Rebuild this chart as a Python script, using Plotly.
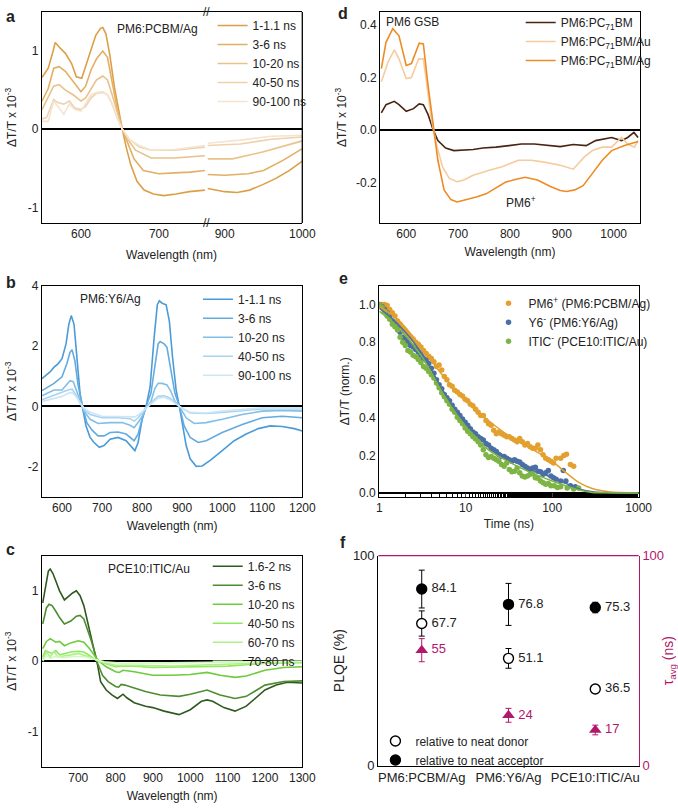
import plotly.graph_objects as go

W, H = 678, 811
def px(x): return x / W
def py(y): return 1 - y / H

FONT = "Arial, Liberation Sans, sans-serif"
TXT = "#222222"

# ---------------- Panel a : PM6:PCBM/Ag ----------------
a_labels = ["1-1.1 ns", "3-6 ns", "10-20 ns", "40-50 ns", "90-100 ns"]
a_colors = ["#DC9F46", "#E3AF63", "#E9C189", "#EED2AC", "#F4E4D0"]
a_x1 = [550, 558, 564, 567, 572, 580, 588, 594, 601, 606, 613, 619, 625, 628, 632, 637, 643, 650, 653, 658, 664, 672, 681, 693, 706, 722, 739, 759,
        878, 900, 916, 932, 949, 966, 983, 1000]
a_y1 = [0.66, 0.78, 0.99, 1.11, 1.05, 0.97, 0.84, 0.67, 0.65, 0.80, 1.03, 1.20, 1.29, 1.30, 1.22, 0.95, 0.53, 0.15, 0.0, -0.23, -0.46, -0.67, -0.78, -0.83, -0.85, -0.83, -0.80, -0.78,
        -0.76, -0.80, -0.81, -0.78, -0.71, -0.63, -0.53, -0.41]
a_x2 = [550, 558, 565, 572, 580, 590, 600, 606, 613, 620, 628, 634, 640, 647, 653, 660, 668, 680, 700, 720, 740, 759,
        878, 900, 930, 950, 975, 1000]
a_y2 = [0.36, 0.52, 0.78, 0.80, 0.74, 0.61, 0.48, 0.55, 0.76, 0.90, 1.00, 0.92, 0.61, 0.23, 0.0, -0.19, -0.38, -0.53, -0.57, -0.56, -0.55, -0.53,
        -0.58, -0.59, -0.57, -0.53, -0.40, -0.25]
a_x3 = [550, 558, 565, 572, 580, 590, 600, 606, 613, 620, 628, 634, 640, 647, 653, 660, 670, 690, 720, 759,
        878, 910, 950, 980, 1000]
a_y3 = [0.25, 0.40, 0.55, 0.57, 0.50, 0.44, 0.36, 0.40, 0.52, 0.63, 0.68, 0.63, 0.44, 0.19, 0.0, -0.13, -0.27, -0.37, -0.37, -0.34,
        -0.38, -0.38, -0.29, -0.21, -0.15]
a_x4 = [550, 556, 565, 570, 578, 585, 592, 600, 606, 613, 620, 628, 634, 640, 647, 653, 662, 675, 690, 720, 759,
        878, 920, 960, 1000]
a_y4 = [0.13, 0.15, 0.38, 0.34, 0.32, 0.36, 0.27, 0.25, 0.29, 0.40, 0.46, 0.47, 0.44, 0.32, 0.13, 0.0, -0.13, -0.23, -0.27, -0.27, -0.23,
        -0.21, -0.19, -0.13, -0.10]
a_x5 = [550, 558, 565, 572, 578, 585, 592, 600, 606, 613, 620, 628, 634, 640, 647, 653, 662, 675, 690, 720, 759,
        878, 920, 960, 1000]
a_y5 = [0.10, 0.10, 0.36, 0.27, 0.19, 0.32, 0.25, 0.23, 0.32, 0.44, 0.47, 0.48, 0.44, 0.32, 0.13, 0.0, -0.13, -0.21, -0.27, -0.26, -0.21,
        -0.18, -0.14, -0.09, -0.08]
a_xs = [a_x1, a_x2, a_x3, a_x4, a_x5]
a_ys = [a_y1, a_y2, a_y3, a_y4, a_y5]
A_BREAK_LO, A_BREAK_HI = 760, 870

# ---------------- Panel d : PC71BM ----------------
d_labels = ["PM6:PC<sub>71</sub>BM", "PM6:PC<sub>71</sub>BM/Au", "PM6:PC<sub>71</sub>BM/Ag"]
d_colors = ["#4A2412", "#F6CB9E", "#EE8B22"]
d_x1 = [552, 561, 577, 586, 600, 614, 625, 633, 642, 652, 661, 676, 692, 711, 729, 748, 773, 798, 822, 847, 872, 897, 922, 947, 965, 996, 1015, 1027, 1039, 1047]
d_y1 = [0.065, 0.096, 0.109, 0.096, 0.071, 0.081, 0.099, 0.096, 0.059, 0.0, -0.041, -0.069, -0.079, -0.076, -0.075, -0.069, -0.066, -0.060, -0.054, -0.054, -0.060, -0.064, -0.056, -0.060, -0.041, -0.029, -0.041, -0.029, -0.010, -0.029]
d_x2 = [552, 565, 577, 586, 600, 610, 624, 633, 639, 648, 658, 670, 683, 698, 711, 729, 760, 785, 816, 841, 866, 897, 922, 943, 959, 978, 996, 1015, 1027, 1040, 1047]
d_y2 = [0.184, 0.259, 0.305, 0.271, 0.196, 0.200, 0.271, 0.271, 0.184, 0.046, -0.054, -0.141, -0.185, -0.198, -0.191, -0.173, -0.154, -0.141, -0.116, -0.116, -0.123, -0.135, -0.150, -0.104, -0.079, -0.066, -0.066, -0.029, -0.054, -0.066, -0.041]
d_x3 = [552, 561, 574, 586, 600, 610, 625, 633, 642, 652, 661, 673, 686, 698, 717, 735, 754, 773, 791, 810, 829, 853, 878, 897, 909, 925, 941, 959, 978, 996, 1021, 1047]
d_y3 = [0.234, 0.334, 0.386, 0.359, 0.246, 0.253, 0.331, 0.328, 0.171, 0.009, -0.116, -0.229, -0.266, -0.275, -0.266, -0.256, -0.244, -0.223, -0.200, -0.189, -0.181, -0.191, -0.216, -0.231, -0.235, -0.229, -0.213, -0.166, -0.116, -0.079, -0.060, -0.044]
d_xs = [d_x1, d_x2, d_x3]
d_ys = [d_y1, d_y2, d_y3]

# ---------------- Panel b : PM6:Y6/Ag ----------------
b_labels = ["1-1.1 ns", "3-6 ns", "10-20 ns", "40-50 ns", "90-100 ns"]
b_colors = ["#4B9BD8", "#63ABE0", "#82BFE8", "#A7D3F0", "#CCE6F6"]
b_x1 = [550, 570, 580, 590, 600, 610, 617, 623, 630, 637, 645, 652, 660, 670, 680, 693, 705, 720, 740, 760, 775, 782, 790, 800, 810, 820, 830, 838, 843, 850, 860, 868, 876, 885, 893, 900, 910, 920, 935, 950, 970, 1000, 1030, 1060, 1090, 1120, 1150, 1180, 1200]
b_y1 = [0.92, 1.14, 1.30, 1.41, 1.58, 2.07, 2.72, 3.01, 2.72, 1.63, 0.43, -0.11, -0.65, -1.03, -1.20, -1.36, -1.30, -1.09, -1.03, -1.14, -1.36, -1.47, -1.20, -0.43, 0.0, 0.65, 2.28, 3.37, 3.50, 3.42, 3.37, 2.83, 1.63, 0.54, 0.0, -0.54, -1.30, -1.74, -1.99, -1.98, -1.79, -1.47, -1.14, -0.92, -0.74, -0.65, -0.67, -0.74, -0.82]
b_x2 = [550, 580, 600, 612, 620, 625, 632, 640, 652, 662, 675, 690, 705, 720, 740, 760, 780, 790, 800, 810, 822, 832, 840, 845, 855, 862, 872, 882, 893, 905, 920, 940, 960, 1000, 1050, 1100, 1150, 1200]
b_y2 = [0.52, 0.76, 0.98, 1.41, 1.79, 1.88, 1.52, 0.71, -0.05, -0.54, -0.79, -0.98, -0.98, -0.87, -0.85, -0.92, -1.14, -0.92, -0.43, 0.0, 0.43, 1.41, 2.07, 2.15, 2.07, 1.96, 1.20, 0.43, 0.0, -0.65, -1.03, -1.20, -1.14, -0.87, -0.60, -0.38, -0.33, -0.38]
b_x3 = [550, 580, 600, 612, 620, 628, 636, 645, 655, 670, 690, 720, 750, 770, 780, 790, 800, 810, 822, 832, 840, 850, 862, 872, 882, 893, 910, 930, 960, 1000, 1050, 1100, 1150, 1200]
b_y3 = [0.35, 0.54, 0.54, 0.71, 0.85, 0.82, 0.54, 0.16, -0.16, -0.43, -0.57, -0.54, -0.54, -0.63, -0.71, -0.54, -0.33, -0.05, 0.16, 0.60, 0.76, 0.76, 0.71, 0.49, 0.16, 0.0, -0.38, -0.57, -0.54, -0.43, -0.27, -0.16, -0.14, -0.16]
b_x4 = [550, 580, 600, 615, 625, 635, 645, 655, 670, 700, 740, 770, 780, 790, 800, 810, 825, 840, 855, 870, 882, 893, 920, 960, 1000, 1100, 1200]
b_y4 = [0.22, 0.38, 0.46, 0.54, 0.57, 0.38, 0.11, -0.11, -0.27, -0.38, -0.38, -0.41, -0.49, -0.38, -0.22, -0.05, 0.16, 0.33, 0.35, 0.27, 0.11, 0.0, -0.22, -0.24, -0.20, -0.09, -0.09]
b_x5 = [550, 580, 600, 615, 625, 635, 645, 655, 670, 700, 740, 770, 782, 795, 810, 825, 840, 855, 870, 893, 920, 960, 1000, 1100, 1200]
b_y5 = [0.16, 0.27, 0.33, 0.43, 0.46, 0.33, 0.11, -0.05, -0.20, -0.33, -0.33, -0.33, -0.35, -0.24, -0.05, 0.11, 0.27, 0.30, 0.22, 0.0, -0.20, -0.22, -0.16, -0.05, -0.05]
b_xs = [b_x1, b_x2, b_x3, b_x4, b_x5]
b_ys = [b_y1, b_y2, b_y3, b_y4, b_y5]

# ---------------- Panel c : PCE10:ITIC/Au ----------------
c_labels = ["1.6-2 ns", "3-6 ns", "10-20 ns", "40-50 ns", "60-70 ns", "70-80 ns"]
c_colors = ["#2F5A1F", "#4D8C2F", "#6DCB3C", "#8FE85E", "#AEF08A", "#D4F8C0"]
c_x1 = [605, 612, 620, 625, 632, 640, 650, 663, 675, 685, 695, 705, 715, 725, 735, 745, 752, 760, 775, 790, 805, 815, 820, 830, 850, 880, 900, 930, 970, 1000, 1030, 1045, 1060, 1090, 1120, 1150, 1180, 1200, 1230, 1260, 1300]
c_y1 = [0.83, 1.07, 1.28, 1.31, 1.25, 1.14, 1.00, 0.87, 0.93, 0.97, 1.00, 0.93, 0.79, 0.57, 0.34, 0.13, -0.06, -0.29, -0.41, -0.48, -0.53, -0.49, -0.47, -0.52, -0.59, -0.64, -0.66, -0.71, -0.76, -0.69, -0.57, -0.55, -0.57, -0.66, -0.71, -0.64, -0.50, -0.41, -0.34, -0.30, -0.31]
c_x2 = [605, 615, 622, 630, 640, 650, 663, 680, 695, 705, 715, 725, 735, 745, 752, 765, 780, 800, 808, 815, 825, 850, 880, 920, 970, 1000, 1045, 1080, 1120, 1150, 1180, 1200, 1250, 1300]
c_y2 = [0.53, 0.76, 0.81, 0.79, 0.71, 0.62, 0.53, 0.57, 0.64, 0.65, 0.60, 0.46, 0.29, 0.11, -0.03, -0.20, -0.29, -0.36, -0.37, -0.33, -0.34, -0.38, -0.43, -0.48, -0.50, -0.47, -0.41, -0.48, -0.53, -0.50, -0.41, -0.34, -0.29, -0.28]
c_x3 = [605, 615, 625, 640, 650, 663, 680, 700, 715, 730, 745, 758, 775, 800, 810, 820, 850, 900, 950, 1000, 1045, 1080, 1120, 1150, 1200, 1250, 1300]
c_y3 = [0.18, 0.28, 0.32, 0.27, 0.28, 0.22, 0.26, 0.29, 0.27, 0.18, 0.07, -0.01, -0.08, -0.15, -0.16, -0.13, -0.15, -0.20, -0.20, -0.19, -0.16, -0.20, -0.23, -0.21, -0.13, -0.09, -0.08]
c_x4 = [605, 612, 620, 630, 640, 650, 665, 680, 700, 715, 730, 750, 770, 800, 820, 850, 900, 1000, 1100, 1200, 1300]
c_y4 = [0.06, 0.15, 0.13, 0.11, 0.15, 0.09, 0.11, 0.13, 0.14, 0.13, 0.08, 0.01, -0.03, -0.08, -0.07, -0.07, -0.09, -0.08, -0.07, -0.03, -0.02]
c_x5 = [605, 615, 625, 635, 645, 660, 680, 700, 720, 740, 760, 800, 850, 950, 1050, 1150, 1300]
c_y5 = [0.03, 0.13, 0.06, 0.14, 0.06, 0.07, 0.09, 0.11, 0.08, 0.04, -0.01, -0.06, -0.06, -0.07, -0.05, -0.03, -0.01]
c_x6 = [605, 615, 625, 640, 660, 690, 720, 745, 770, 820, 900, 1000, 1150, 1300]
c_y6 = [0.0, 0.08, 0.04, 0.07, 0.05, 0.07, 0.06, 0.03, -0.01, -0.03, -0.03, -0.02, -0.01, 0.0]
c_xs = [c_x1, c_x2, c_x3, c_x4, c_x5, c_x6]
c_ys = [c_y1, c_y2, c_y3, c_y4, c_y5, c_y6]

# ---------------- Panel e : kinetics ----------------
e_labels = ["PM6<sup>+</sup> (PM6:PCBM/Ag)", "Y6<sup>-</sup> (PM6:Y6/Ag)", "ITIC<sup>-</sup> (PCE10:ITIC/Au)"]
e_colors = ["#E3A02E", "#4A6FA6", "#7DB443"]
e_t = [1.0, 1.072, 1.149, 1.231, 1.319, 1.414, 1.515, 1.624, 1.740, 1.865, 1.999, 2.142, 2.296, 2.460, 2.637, 2.826, 3.028, 3.245, 3.478, 3.727,
       3.994, 4.281, 4.587, 4.917, 5.269, 5.647, 6.053, 6.486, 6.952, 7.450, 7.985, 8.557, 9.171, 9.829, 10.53, 11.29, 12.10, 12.97, 13.90, 14.89,
       15.96, 17.11, 18.33, 19.65, 21.06, 22.57, 24.18, 25.92, 27.78, 29.77, 31.90, 34.19, 36.64, 39.26, 42.08, 45.10, 48.33, 51.79, 55.51, 59.49,
       63.75, 68.32, 73.22, 78.46, 84.09, 90.12, 96.60, 103.5, 110.9]
e_t_pm6 = e_t + [125.3, 136.5, 146.3, 162.4, 177.0]
e_y_pm6 = [1.0, 1.0, 1.0, 0.995, 0.974, 0.957, 0.94, 0.913, 0.896, 0.875, 0.861, 0.844, 0.83, 0.818, 0.80, 0.789, 0.775, 0.757, 0.74, 0.726,
           0.714, 0.697, 0.671, 0.679, 0.653, 0.619, 0.601, 0.575, 0.567, 0.546, 0.536, 0.523, 0.515, 0.497, 0.489, 0.471, 0.463, 0.445, 0.428, 0.411,
           0.411, 0.385, 0.367, 0.359, 0.333, 0.315, 0.324, 0.315, 0.307, 0.298, 0.298, 0.289, 0.281, 0.272, 0.289, 0.272, 0.255, 0.263, 0.246, 0.237,
           0.237, 0.255, 0.229, 0.203, 0.185, 0.177, 0.168, 0.159, 0.185,
           0.185, 0.199, 0.206, 0.151, 0.142]
e_t_y6 = e_t + [125.3, 134.3, 143.9, 162.4, 184.9]
e_y_y6 = [1.0, 0.99, 0.974, 0.957, 0.939, 0.913, 0.896, 0.879, 0.853, 0.827, 0.818, 0.80, 0.783, 0.775, 0.761, 0.749, 0.731, 0.714, 0.705, 0.688,
          0.662, 0.636, 0.601, 0.575, 0.553, 0.523, 0.506, 0.489, 0.466, 0.445, 0.428, 0.411, 0.393, 0.376, 0.359, 0.341, 0.324, 0.315, 0.298, 0.289,
          0.281, 0.263, 0.255, 0.237, 0.229, 0.22, 0.203, 0.194, 0.194, 0.185, 0.177, 0.168, 0.177, 0.168, 0.165, 0.151, 0.142, 0.133, 0.125, 0.133,
          0.137, 0.116, 0.113, 0.099, 0.107, 0.12, 0.09, 0.081, 0.073,
          0.064, 0.12, 0.064, 0.038, 0.033]
e_t_itic = e_t[:-2] + [105.4, 114.9, 125.3, 148.9, 177.0, 201.7]
e_y_itic = [1.0, 0.986, 0.965, 0.939, 0.922, 0.896, 0.882, 0.865, 0.827, 0.80, 0.783, 0.757, 0.749, 0.731, 0.723, 0.709, 0.692, 0.671, 0.662, 0.645,
            0.627, 0.61, 0.584, 0.558, 0.532, 0.511, 0.489, 0.471, 0.445, 0.428, 0.402, 0.385, 0.367, 0.345, 0.328, 0.315, 0.298, 0.286, 0.272, 0.255,
            0.229, 0.203, 0.189, 0.194, 0.185, 0.177, 0.168, 0.151, 0.142, 0.159, 0.125, 0.113, 0.116, 0.133, 0.107, 0.09, 0.085, 0.09, 0.099, 0.102,
            0.081, 0.078, 0.064, 0.055, 0.047, 0.05, 0.038,
            0.038, 0.029, 0.033, 0.026, 0.021, 0.026]
e_fit_t = [1.0, 1.65, 3.03, 5.5, 10.0, 18.3, 30.8, 51.8, 100.0, 145.0, 205.0, 290.0, 450.0, 1000.0]
e_fit_pm6 = [0.99, 0.92, 0.775, 0.62, 0.49, 0.385, 0.307, 0.246, 0.168, 0.107, 0.055, 0.024, 0.007, 0.0]
e_fit_y6 = [0.98, 0.896, 0.749, 0.54, 0.367, 0.255, 0.185, 0.133, 0.081, 0.05, 0.021, 0.007, 0.002, 0.0]
e_fit_itic = [0.965, 0.879, 0.731, 0.523, 0.35, 0.229, 0.168, 0.116, 0.064, 0.038, 0.016, 0.003, 0.001, 0.0]

# ---------------- Panel f : PLQE ----------------
f_cats = ["PM6:PCBM/Ag", "PM6:Y6/Ag", "PCE10:ITIC/Au"]
f_donor = [67.7, 51.1, 36.5]
f_donor_err = [6.0, 4.7, 1.0]
f_acceptor = [84.1, 76.8, 75.3]
f_acceptor_err = [9.0, 10.0, 2.5]
f_tau = [55, 24, 17]
f_tau_err = [5.5, 3.3, 2.3]
MAG = "#B0186C"

fig = go.Figure()

def line_trace(x, y, color, name, xa, ya, legend, showlegend=True, width=1.6):
    fig.add_trace(go.Scatter(x=x, y=y, mode="lines", name=name, line=dict(color=color, width=width),
                             xaxis=xa, yaxis=ya, legend=legend, showlegend=showlegend, hoverinfo="skip"))

# panel a (broken x axis)
for lab, col, xs, ys in zip(a_labels, a_colors, a_xs, a_ys):
    s1 = [(x, y) for x, y in zip(xs, ys) if x <= A_BREAK_LO]
    s2 = [(x, y) for x, y in zip(xs, ys) if x >= A_BREAK_HI]
    line_trace([p[0] for p in s1], [p[1] for p in s1], col, lab, "x", "y", "legend")
    line_trace([p[0] for p in s2], [p[1] for p in s2], col, lab, "x2", "y", "legend", showlegend=False)

for lab, col, xs, ys in zip(d_labels, d_colors, d_xs, d_ys):
    line_trace(xs, ys, col, lab, "x3", "y2", "legend2")

for lab, col, xs, ys in zip(b_labels, b_colors, b_xs, b_ys):
    line_trace(xs, ys, col, lab, "x4", "y3", "legend3")

for lab, col, xs, ys in zip(c_labels, c_colors, c_xs, c_ys):
    line_trace(xs, ys, col, lab, "x6", "y5", "legend5")

for lab, col, ts, ys in zip(e_labels, e_colors, [e_t_pm6, e_t_y6, e_t_itic], [e_y_pm6, e_y_y6, e_y_itic]):
    fig.add_trace(go.Scatter(x=ts, y=ys, mode="markers", name=lab, marker=dict(color=col, size=5.5),
                             xaxis="x5", yaxis="y4", legend="legend4", hoverinfo="skip"))
for col, fy in zip(e_colors, [e_fit_pm6, e_fit_y6, e_fit_itic]):
    fig.add_trace(go.Scatter(x=e_fit_t, y=fy, mode="lines", line=dict(color=col, width=1.5, shape="spline"),
                             xaxis="x5", yaxis="y4", showlegend=False, hoverinfo="skip"))

# panel f
fig.add_trace(go.Scatter(x=f_cats, y=f_tau, mode="markers", marker=dict(symbol="triangle-up", size=11, color=MAG),
                         error_y=dict(type="data", array=f_tau_err, color=MAG, thickness=1, width=3),
                         xaxis="x7", yaxis="y7", showlegend=False, hoverinfo="skip"))
fig.add_trace(go.Scatter(x=f_cats, y=f_donor, mode="markers", name="relative to neat donor",
                         marker=dict(symbol="circle", size=10, color="white", line=dict(color="black", width=1.4)),
                         error_y=dict(type="data", array=f_donor_err, color="black", thickness=1, width=3),
                         xaxis="x7", yaxis="y6", legend="legend6", hoverinfo="skip"))
fig.add_trace(go.Scatter(x=f_cats, y=f_acceptor, mode="markers", name="relative to neat acceptor",
                         marker=dict(symbol="circle", size=10, color="black", line=dict(color="black", width=1.4)),
                         error_y=dict(type="data", array=f_acceptor_err, color="black", thickness=1, width=3),
                         xaxis="x7", yaxis="y6", legend="legend6", hoverinfo="skip"))
for vals, ya, col in [(f_donor, "y6", TXT), (f_acceptor, "y6", TXT), (f_tau, "y7", MAG)]:
    fig.add_trace(go.Scatter(x=f_cats, y=vals, mode="markers+text", text=[f"{v}" for v in vals], textposition="middle right",
                             marker=dict(size=14, opacity=0), textfont=dict(size=13, color=col, family=FONT),
                             xaxis="x7", yaxis=ya, showlegend=False, hoverinfo="skip"))

tickf = dict(size=12, family=FONT, color=TXT)
titf = dict(size=12, family=FONT, color=TXT)

def xax(dom, rng, **kw):
    d = dict(domain=[px(dom[0]), px(dom[1])], range=rng, showline=True, linecolor="black", linewidth=1.3,
             mirror=True, ticks="", showgrid=False, zeroline=False, tickfont=tickf, title_font=titf)
    d.update(kw)
    return d

def yax(dom, rng, **kw):
    d = dict(domain=[py(dom[1]), py(dom[0])], range=rng, showline=True, linecolor="black", linewidth=1.3,
             mirror=True, ticks="", showgrid=False, zeroline=True, zerolinecolor="black", zerolinewidth=1.6,
             tickfont=tickf, title_font=titf)
    d.update(kw)
    return d

YT = "ΔT/T x 10<sup>-3</sup>"
WL = "Wavelength (nm)"

fig.update_layout(
    width=W, height=H, margin=dict(l=0, r=0, t=0, b=0),
    paper_bgcolor="white", plot_bgcolor="white", font=dict(family=FONT, color=TXT, size=12),
    # a
    xaxis=xax((40, 209.5), [550, 762], anchor="y", tickvals=[600, 700]),
    xaxis2=xax((209.5, 307), [877.5, 1000], anchor="y", tickvals=[900, 1000]),
    yaxis=yax((5, 220), [-1.2, 1.5], anchor="x", mirror=False, tickvals=[-1, 0, 1], ticktext=["-1", "0", "1"],
              title=dict(text=YT, standoff=8)),
    # d
    xaxis3=xax((387, 653), [550, 1050], anchor="y2", tickvals=[600, 700, 800, 900, 1000], title=dict(text=WL, standoff=7)),
    yaxis2=yax((5, 220), [-0.355, 0.45], anchor="x3", tickvals=[-0.2, 0, 0.2, 0.4], ticktext=["-0.2", "0.0", "0.2", "0.4"],
               title=dict(text=YT, standoff=6)),
    # b
    xaxis4=xax((40, 307), [550, 1200], anchor="y3", tickvals=[600, 700, 800, 900, 1000, 1100, 1200], title=dict(text=WL, standoff=7)),
    yaxis3=yax((284, 499), [-3, 4], anchor="x4", tickvals=[-2, 0, 2, 4], ticktext=["-2", "0", "2", "4"],
               title=dict(text=YT, standoff=8)),
    # e
    xaxis5=xax((386, 652), [0, 3], anchor="y4", type="log", tickvals=[1, 10, 100, 1000], ticks="inside", ticklen=4,
               minor=dict(ticks="inside", ticklen=2.5, tickcolor="black", showgrid=False),
               title=dict(text="Time (ns)", standoff=5)),
    yaxis4=yax((284, 499), [-0.02, 1.1], anchor="x5", tickvals=[0, 0.2, 0.4, 0.6, 0.8, 1.0], tickformat=".1f",
               title=dict(text="ΔT/T (norm.)", standoff=6)),
    # c
    xaxis6=xax((40, 307), [603, 1300], anchor="y5", tickvals=[700, 800, 900, 1000, 1100, 1200, 1300], title=dict(text=WL, standoff=7)),
    yaxis5=yax((559, 774), [-1.5, 1.5], anchor="x6", tickvals=[-1, 0, 1], ticktext=["-1", "0", "1"],
               title=dict(text=YT, standoff=8)),
    # f
    xaxis7=xax((385, 652), [-0.5, 2.5], anchor="y6", type="category", mirror=False, tickfont=dict(size=13, family=FONT, color=TXT)),
    yaxis6=yax((559, 773), [0, 100], anchor="x7", mirror=False, zeroline=False, tickvals=[0, 100],
               tickfont=dict(size=13, family=FONT, color=TXT),
               title=dict(text="PLQE (%)", standoff=4, font=dict(size=14, family=FONT, color=TXT))),
    yaxis7=yax((559, 773), [0, 100], anchor="x7", overlaying="y6", side="right", mirror=False, zeroline=False,
               linecolor=MAG, tickvals=[0, 100], tickfont=dict(size=13, family=FONT, color=MAG),
               title=dict(text="τ<sub>avg</sub> (ns)", standoff=4, font=dict(size=14, family=FONT, color=MAG))),
)

leg_common = dict(xanchor="left", yanchor="top", bgcolor="rgba(0,0,0,0)", itemwidth=30, tracegroupgap=0,
                  font=dict(size=12, family=FONT, color=TXT))
fig.update_layout(
    legend=dict(x=px(215), y=py(4), **leg_common),
    legend2=dict(x=px(531), y=py(1), **leg_common),
    legend3=dict(x=px(200), y=py(283), **leg_common),
    legend4=dict(x=px(498), y=py(287), **leg_common),
    legend5=dict(x=px(210), y=py(555), **leg_common),
    legend6=dict(x=px(382), y=py(733), **leg_common),
)

# borders not covered by axis lines
fig.add_shape(type="line", xref="x2 domain", yref="y domain", x0=1, x1=1, y0=0, y1=1, line=dict(color="black", width=1.3))
fig.add_shape(type="line", xref="x7 domain", yref="y6 domain", x0=0, x1=1, y0=1, y1=1, line=dict(color=MAG, width=1.3))

ann = []
def label(text, x, y, size=12, bold=False, xanchor="center", color=TXT):
    ann.append(dict(text=f"<b>{text}</b>" if bold else text, x=px(x), y=py(y), xref="paper", yref="paper",
                    showarrow=False, xanchor=xanchor, yanchor="middle", font=dict(size=size, family=FONT, color=color)))

for t, x, y in [("a", 8, 10), ("b", 8, 281), ("c", 8, 553), ("d", 349, 7), ("e", 349, 277), ("f", 349, 546)]:
    label(t, x, y, size=16, bold=True)
label("PM6:PCBM/Ag", 158, 22)
label("PM6 GSB", 391, 15, xanchor="left")
label("PM6<sup>+</sup>", 531, 199)
label("PM6:Y6/Ag", 110, 298)
label("PCE10:ITIC/Au", 150, 573)
label(WL, 173, 253)
label("//", 209, 5, size=12)
label("//", 209, 220, size=12)
fig.update_layout(annotations=ann)

fig.write_html("out.html")
